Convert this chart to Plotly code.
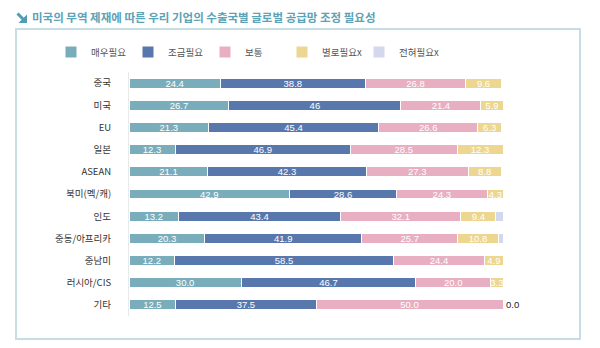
import plotly.graph_objects as go

categories = ["중국", "미국", "EU", "일본", "ASEAN", "북미(멕/캐)", "인도", "중동/아프리카", "중남미", "러시아/CIS", "기타"]
series_names = ["매우필요", "조금필요", "보통", "별로필요x", "전혀필요x"]
very_needed = [24.4, 26.7, 21.3, 12.3, 21.1, 42.9, 13.2, 20.3, 12.2, 30.0, 12.5]
some_needed = [38.8, 46, 45.4, 46.9, 42.3, 28.6, 43.4, 41.9, 58.5, 46.7, 37.5]
neutral = [26.8, 21.4, 26.6, 28.5, 27.3, 24.3, 32.1, 25.7, 24.4, 20.0, 50.0]
not_much = [9.6, 5.9, 6.3, 12.3, 8.8, 4.3, 9.4, 10.8, 4.9, 3.3, 0.0]
not_at_all = [0, 0, 0, 0, 0, 0, 1.9, 1.3, 0, 0, 0]
colors = ["#7aadbb", "#5878ad", "#e8aec1", "#ecd690", "#d3d8ec"]

title = "미국의 무역 제재에 따른 우리 기업의 수출국별 글로벌 공급망 조정 필요성"

FONT = "Noto Sans CJK KR"
series = [very_needed, some_needed, neutral, not_much, not_at_all]

# plot area geometry (pixels) used to place decorations in paper coordinates
L, R, T, B = 129, 503, 72, 316


def px(x):
    return (x - L) / (R - L)


def py(y):
    return (B - y) / (B - T)


fig = go.Figure()
for i, (name, vals) in enumerate(zip(series_names, series)):
    show_text = i < 4
    texts = []
    for v in vals:
        if show_text and v > 0:
            texts.append(str(v))
        else:
            texts.append("")
    fig.add_trace(go.Bar(
        y=categories, x=vals, name=name, orientation="h",
        marker=dict(color=colors[i], line=dict(color="white", width=1)),
        text=texts, textposition="inside", insidetextanchor="middle", textangle=0,
        textfont=dict(color="white", size=9.5, family="Liberation Sans"),
        hoverinfo="x+y+name",
    ))

# invisible spacer entry so the last legend label is not clipped
fig.add_trace(go.Bar(y=[categories[0]], x=[0], name=" ", orientation="h",
                     marker=dict(color="rgba(0,0,0,0)", line=dict(width=0)),
                     hoverinfo="skip", showlegend=True))

# outside label for zero value of 별로필요x (기타)
for cat, v, a, b, c in zip(categories, not_much, very_needed, some_needed, neutral):
    if v == 0:
        fig.add_annotation(x=a + b + c + v, y=cat, text=f"{v:.1f}", showarrow=False,
                           xanchor="left", xshift=1,
                           font=dict(size=9.5, color="#222", family="Liberation Sans"))

# title icon (thick down-right arrow)
icon_color = "#4f9db3"
fig.add_shape(type="line", xref="paper", yref="paper",
              x0=px(17.5), y0=py(13.5), x1=px(23.5), y1=py(19.5),
              line=dict(color=icon_color, width=3))
fig.add_shape(type="path", xref="paper", yref="paper",
              path=f"M {px(27)} {py(23)} L {px(27)} {py(14.5)} L {px(18.5)} {py(23)} Z",
              line=dict(color=icon_color, width=0), fillcolor=icon_color)

fig.add_annotation(xref="paper", yref="paper", x=px(30), y=py(17), xanchor="left", yanchor="middle",
                   text=f"<b>{title}</b>", showarrow=False,
                   font=dict(size=11.5, color="#5ba3b6", family=FONT))

# frame box
fig.add_shape(type="rect", xref="paper", yref="paper", x0=px(16), x1=px(580), y0=py(339), y1=py(29),
              line=dict(color="#c6dde4", width=2), fillcolor="rgba(0,0,0,0)", layer="below")

fig.update_layout(
    width=600, height=348,
    barmode="stack", bargap=0.55,
    margin=dict(l=L, r=600 - R, t=T, b=348 - B),
    paper_bgcolor="white", plot_bgcolor="white",
    font=dict(family=FONT, size=9.5, color="#333"),
    uniformtext=dict(minsize=9, mode="show"),
    legend=dict(orientation="h", x=px(51), y=py(52), xanchor="left", yanchor="middle",
                font=dict(size=9.5, color="#555", family=FONT), itemwidth=30,
                entrywidth=32, entrywidthmode="pixels",
                traceorder="normal"),
    xaxis=dict(range=[0, 100], visible=False, fixedrange=True),
    yaxis=dict(autorange="reversed", showline=True, linecolor="#e9e9e9", linewidth=1,
               ticks="", showgrid=False, ticklabelstandoff=15,
               tickfont=dict(size=9.5, color="#333", family=FONT)),
)

fig.write_html("out.html")
